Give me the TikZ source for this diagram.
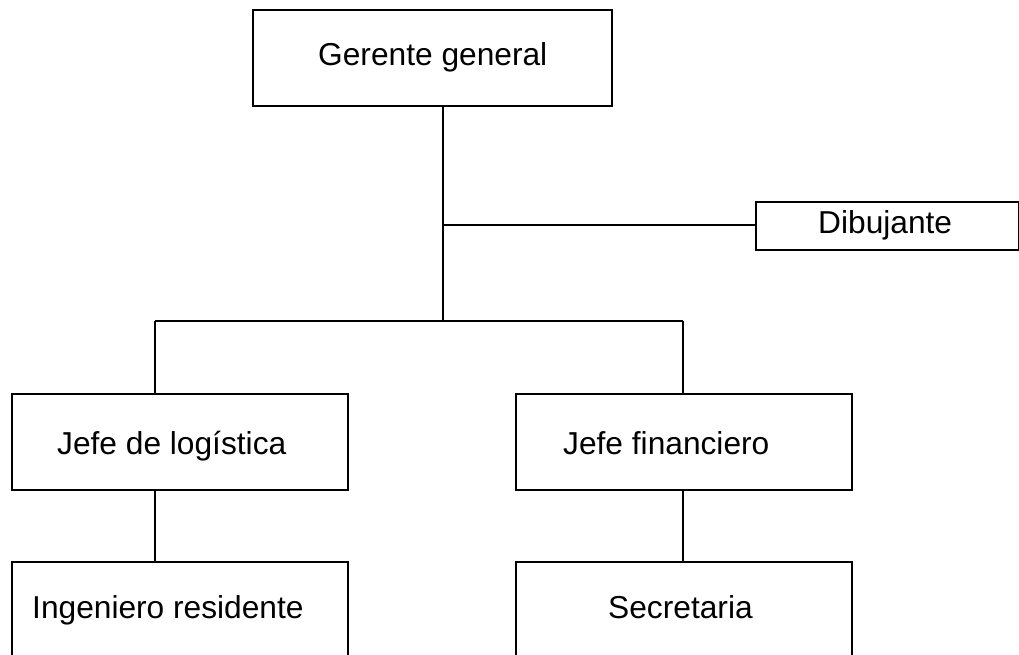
\documentclass[tikz,border=0pt]{standalone}
\usepackage{fontspec}
\setmainfont{Liberation Sans}
\begin{document}
\begin{tikzpicture}[x=1pt,y=-1pt,
  box/.style={draw,line width=1.8pt,rectangle,inner sep=0pt,anchor=north west},
  caption/.style={inner sep=0pt,anchor=base west,font=\fontsize{31.7}{36}\selectfont},
  link/.style={line width=1.6pt}]
  \useasboundingbox (0,0) rectangle (1019,654);
  \clip (0,0) rectangle (1019,654);
  % boxes
  \node[box,minimum width=359pt,minimum height=96pt] (gg)  at (252,9)   {};
  \node[box,minimum width=263pt,minimum height=48pt] (dib) at (755,201) {};
  \node[box,minimum width=336pt,minimum height=96pt] (jl)  at (11,393)  {};
  \node[box,minimum width=336pt,minimum height=96pt] (jf)  at (515,393) {};
  \node[box,minimum width=336pt,minimum height=96pt] (ir)  at (11,561)  {};
  \node[box,minimum width=336pt,minimum height=96pt] (sec) at (515,561) {};
  % captions
  \node[caption] (tgg)  at (318,65)  {Gerente general};
  \node[caption] (tdib) at (818,233) {Dibujante};
  \node[caption] (tjl)  at (57,454)  {Jefe de logística};
  \node[caption] (tjf)  at (563,454) {Jefe financiero};
  \node[caption] (tir)  at (32,618)  {Ingeniero residente};
  \node[caption] (tsec) at (608,618) {Secretaria};
  % connector junctions
  \coordinate (bus)  at (443,321);
  \coordinate (busL) at (155,321);
  \coordinate (busR) at (683,321);
  \coordinate (tee)  at (443,225);
  % connectors
  \draw[link] (gg.south -| bus) -- (bus);
  \draw[link] (tee) -- (tee -| dib.west);
  \draw[link] (busL) -- (busR);
  \draw[link] (busL) -- (jl.north -| busL);
  \draw[link] (busR) -- (jf.north -| busR);
  \draw[link] (jl.south -| busL) -- (ir.north -| busL);
  \draw[link] (jf.south -| busR) -- (sec.north -| busR);
\end{tikzpicture}
\end{document}
